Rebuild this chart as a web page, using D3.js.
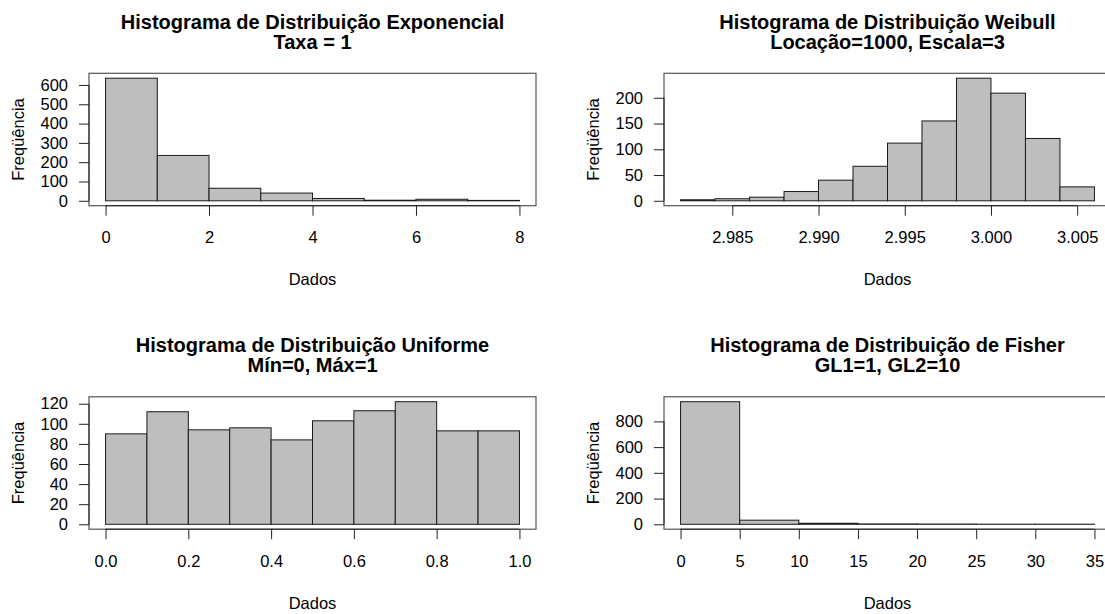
<!DOCTYPE html>
<html>
<head>
<meta charset="utf-8">
<script src="https://cdn.jsdelivr.net/npm/d3@7"></script>
<style>
  body { margin: 0; background: white; }
  text { font-family: "Liberation Sans", Arial, sans-serif; fill: #000; }
</style>
</head>
<body>
<div id="chart"></div>
<script>
// histogram data
const expBreaks = [0, 1, 2, 3, 4, 5, 6, 7, 8];
const expCounts = [635, 235, 65, 40, 12, 3, 8, 2];
const expXTicks = [0, 2, 4, 6, 8];
const expYTicks = [0, 100, 200, 300, 400, 500, 600];

const weiBreaks = [2.982, 2.984, 2.986, 2.988, 2.990, 2.992, 2.994, 2.996, 2.998, 3.000, 3.002, 3.004, 3.006];
const weiCounts = [2, 4, 7, 18, 40, 67, 112, 155, 238, 209, 121, 27];
const weiXTicks = [2.985, 2.990, 2.995, 3.000, 3.005];
const weiYTicks = [0, 50, 100, 150, 200];

const uniBreaks = [0, 0.1, 0.2, 0.3, 0.4, 0.5, 0.6, 0.7, 0.8, 0.9, 1.0];
const uniCounts = [90, 112, 94, 96, 84, 103, 113, 122, 93, 93];
const uniXTicks = [0, 0.2, 0.4, 0.6, 0.8, 1.0];
const uniYTicks = [0, 20, 40, 60, 80, 100, 120];

const fisBreaks = [0, 5, 10, 15, 20, 25, 30, 35];
const fisCounts = [953, 32, 8, 3, 2, 1, 1];
const fisXTicks = [0, 5, 10, 15, 20, 25, 30, 35];
const fisYTicks = [0, 200, 400, 600, 800];

const titles = [
    ["Histograma de Distribuição Exponencial", "Taxa = 1"],
    ["Histograma de Distribuição Weibull", "Locação=1000, Escala=3"],
    ["Histograma de Distribuição Uniforme", "Mín=0, Máx=1"],
    ["Histograma de Distribuição de Fisher", "GL1=1, GL2=10"]
];
const xLabel = "Dados";
const yLabel = "Freqüência";

const layout = {
    width: 1105,
    height: 614,
    panelWidth: 575,
    panelHeight: 323.5,
    boxLeft: 89,
    boxTop: 73.3,
    boxWidth: 447,
    boxHeight: 132.4,
    tickSize: 10,
    fontSize: 16.5,
    titleSize: 20
};

let svg = d3.select("#chart").append("svg")
    .attr("width", layout.width)
    .attr("height", layout.height)
    .attr("viewBox", [0, 0, layout.width, layout.height].join(" "));

// R style range: data range padded by 4% on each side
function padded(lo, hi) {
    let r = hi - lo;
    return [lo - 0.04 * r, hi + 0.04 * r];
}

function drawPanel(col, row, breaks, counts, xTicks, yTicks, xFormat, title) {
    let g = svg.append("g")
        .attr("transform", `translate(${col * layout.panelWidth},${row * layout.panelHeight})`);

    let x0 = layout.boxLeft, x1 = layout.boxLeft + layout.boxWidth;
    let y0 = layout.boxTop + layout.boxHeight, y1 = layout.boxTop;

    let xScale = d3.scaleLinear()
        .domain(padded(d3.min(breaks), d3.max(breaks)))
        .range([x0, x1]);
    let yScale = d3.scaleLinear()
        .domain(padded(0, d3.max(counts)))
        .range([y0, y1]);

    let bins = counts.map((c, i) => ({ lo: breaks[i], hi: breaks[i + 1], n: c }));

    // bars
    g.append("g").selectAll("rect").data(bins)
        .join("rect")
        .attr("x", d => xScale(d.lo))
        .attr("y", d => yScale(d.n))
        .attr("width", d => xScale(d.hi) - xScale(d.lo))
        .attr("height", d => yScale(0) - yScale(d.n))
        .attr("fill", "#bebebe")
        .attr("stroke", "#1a1a1a")
        .attr("stroke-width", 1);

    // box round the plot region
    g.append("rect")
        .attr("x", x0)
        .attr("y", y1)
        .attr("width", x1 - x0)
        .attr("height", y0 - y1)
        .attr("fill", "none")
        .attr("stroke", "#555")
        .attr("stroke-width", 1.2);

    // x axis
    let xAxis = g.append("g")
        .attr("transform", `translate(0,${y0})`)
        .call(d3.axisBottom(xScale)
            .tickValues(xTicks)
            .tickFormat(xFormat)
            .tickSize(layout.tickSize)
            .tickSizeOuter(0)
            .tickPadding(16));
    xAxis.select(".domain").remove();
    xAxis.append("line")
        .attr("x1", xScale(d3.min(xTicks)))
        .attr("x2", xScale(d3.max(xTicks)))
        .attr("stroke", "#222");
    xAxis.selectAll("line").attr("stroke", "#222");
    xAxis.selectAll("text")
        .attr("font-size", layout.fontSize)
        .attr("font-family", "Liberation Sans, Arial, sans-serif")
        .attr("fill", "#000");

    // y axis
    let yAxis = g.append("g")
        .attr("transform", `translate(${x0},0)`)
        .call(d3.axisLeft(yScale)
            .tickValues(yTicks)
            .tickFormat(d3.format("d"))
            .tickSize(layout.tickSize)
            .tickSizeOuter(0)
            .tickPadding(11));
    yAxis.select(".domain").remove();
    yAxis.append("line")
        .attr("y1", yScale(d3.min(yTicks)))
        .attr("y2", yScale(d3.max(yTicks)))
        .attr("stroke", "#222");
    yAxis.selectAll("line").attr("stroke", "#222");
    yAxis.selectAll("text")
        .attr("font-size", layout.fontSize)
        .attr("font-family", "Liberation Sans, Arial, sans-serif")
        .attr("fill", "#000");

    let cx = (x0 + x1) / 2;
    // two line title
    g.append("text")
        .attr("x", cx)
        .attr("y", 28.5)
        .attr("text-anchor", "middle")
        .attr("font-weight", "bold")
        .attr("font-size", layout.titleSize)
        .text(title[0]);
    g.append("text")
        .attr("x", cx)
        .attr("y", 48.5)
        .attr("text-anchor", "middle")
        .attr("font-weight", "bold")
        .attr("font-size", layout.titleSize)
        .text(title[1]);

    // axis titles
    g.append("text")
        .attr("x", cx)
        .attr("y", y0 + 79.3)
        .attr("text-anchor", "middle")
        .attr("font-size", layout.fontSize)
        .text(xLabel);
    g.append("text")
        .attr("transform", `translate(24,${(y0 + y1) / 2}) rotate(-90)`)
        .attr("text-anchor", "middle")
        .attr("font-size", layout.fontSize)
        .text(yLabel);
}

drawPanel(0, 0, expBreaks, expCounts, expXTicks, expYTicks, d3.format("d"), titles[0]);
drawPanel(1, 0, weiBreaks, weiCounts, weiXTicks, weiYTicks, d3.format(".3f"), titles[1]);
drawPanel(0, 1, uniBreaks, uniCounts, uniXTicks, uniYTicks, d3.format(".1f"), titles[2]);
drawPanel(1, 1, fisBreaks, fisCounts, fisXTicks, fisYTicks, d3.format("d"), titles[3]);
</script>
</body>
</html>
